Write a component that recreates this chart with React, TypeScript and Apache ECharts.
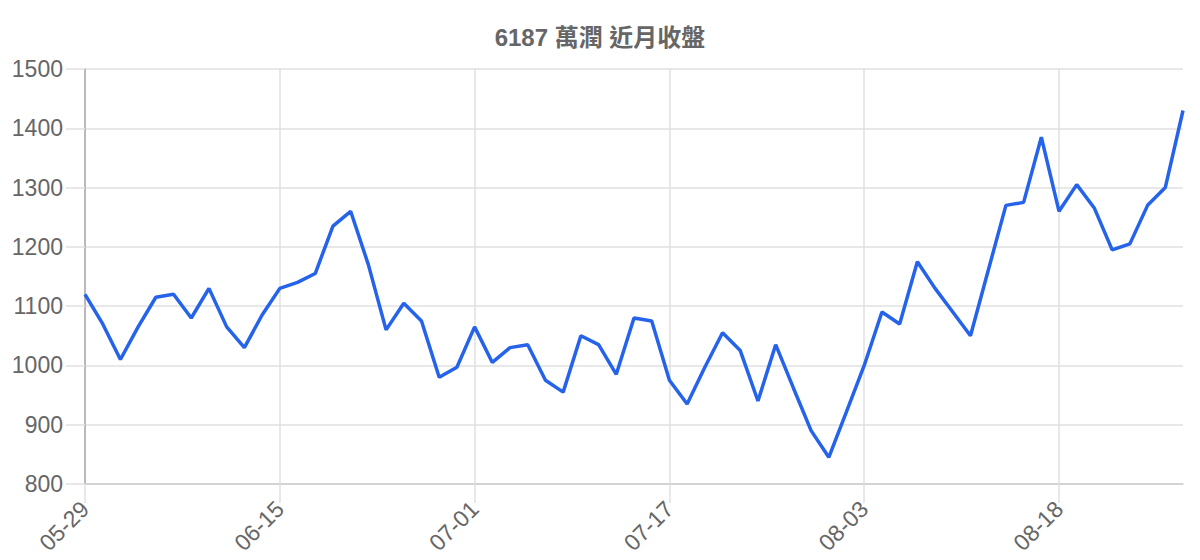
import React, { useEffect, useRef } from "react";
import * as echarts from "echarts";

const TITLE = "6187 萬潤 近月收盤";

const dates: string[] = [
  "05-29", "06-01", "06-02", "06-03", "06-04", "06-05", "06-08", "06-09", "06-10", "06-11", "06-12",
  "06-15", "06-16", "06-17", "06-18", "06-22", "06-23", "06-24", "06-25", "06-26", "06-29", "06-30",
  "07-01", "07-02", "07-03", "07-06", "07-07", "07-08", "07-09", "07-13", "07-14", "07-15", "07-16",
  "07-17", "07-20", "07-21", "07-22", "07-23", "07-24", "07-27", "07-28", "07-29", "07-30", "07-31",
  "08-03", "08-04", "08-05", "08-06", "08-07", "08-10", "08-11", "08-12", "08-13", "08-14", "08-17",
  "08-18", "08-19", "08-20", "08-21", "08-24", "08-25", "08-26", "08-27",
];

const closes: number[] = [
  1120, 1070, 1010, 1065, 1115, 1120, 1080, 1130, 1065, 1030, 1085,
  1130, 1140, 1155, 1235, 1260, 1170, 1060, 1105, 1075, 980, 997,
  1065, 1005, 1030, 1035, 975, 955, 1050, 1035, 985, 1080, 1075,
  975, 935, 997, 1055, 1025, 940, 1035, 962, 890, 845, 922,
  1000, 1090, 1070, 1175, 1130, 1090, 1050, 1160, 1270, 1275, 1385,
  1260, 1305, 1265, 1195, 1205, 1270, 1300, 1430,
];

const Y_MIN = 800;
const Y_MAX = 1500;
const Y_STEP = 100;
const LABEL_EVERY = 11;

export default function App() {
  const ref = useRef<HTMLDivElement>(null);

  useEffect(() => {
    document.body.style.margin = "0";
    if (!ref.current) return;
    const chart = echarts.init(ref.current, undefined, { renderer: "svg" });
    const font = "'Liberation Sans', Arial, 'Noto Sans CJK TC', sans-serif";
    chart.setOption({
      animation: false,
      backgroundColor: "#ffffff",
      title: {
        text: TITLE,
        left: "center",
        top: 20,
        textStyle: { fontFamily: font, fontSize: 24, fontWeight: "bold", color: "#666666" },
      },
      grid: { left: 85, right: 17, top: 69, bottom: 76, containLabel: false },
      xAxis: {
        type: "category",
        data: dates,
        boundaryGap: false,
        axisLine: { show: true, lineStyle: { color: "#cccccc", width: 1.5 } },
        axisTick: {
          show: true,
          length: 19,
          interval: LABEL_EVERY - 1,
          lineStyle: { color: "#e0e0e0", width: 1.5 },
        },
        splitLine: {
          show: true,
          interval: LABEL_EVERY - 1,
          lineStyle: { color: "#e0e0e0", width: 1.5 },
        },
        axisLabel: {
          interval: LABEL_EVERY - 1,
          rotate: 45,
          margin: 21,
          fontFamily: font,
          fontSize: 23,
          color: "#666666",
        },
      },
      yAxis: {
        type: "value",
        min: Y_MIN,
        max: Y_MAX,
        interval: Y_STEP,
        axisLine: { show: true, lineStyle: { color: "#aaaaaa", width: 1.5 } },
        axisTick: { show: true, length: 19, lineStyle: { color: "#e0e0e0", width: 1.5 } },
        splitLine: { show: true, lineStyle: { color: "#e0e0e0", width: 1.5 } },
        axisLabel: {
          margin: 22,
          fontFamily: font,
          fontSize: 23,
          color: "#666666",
          formatter: (v: number) => String(v),
        },
      },
      series: [
        {
          type: "line",
          data: closes,
          showSymbol: false,
          symbol: "none",
          lineStyle: { color: "#2563eb", width: 3.5 },
          itemStyle: { color: "#2563eb" },
        },
      ],
    });
    return () => chart.dispose();
  }, []);

  return <div ref={ref} style={{ width: 1200, height: 560 }} />;
}
